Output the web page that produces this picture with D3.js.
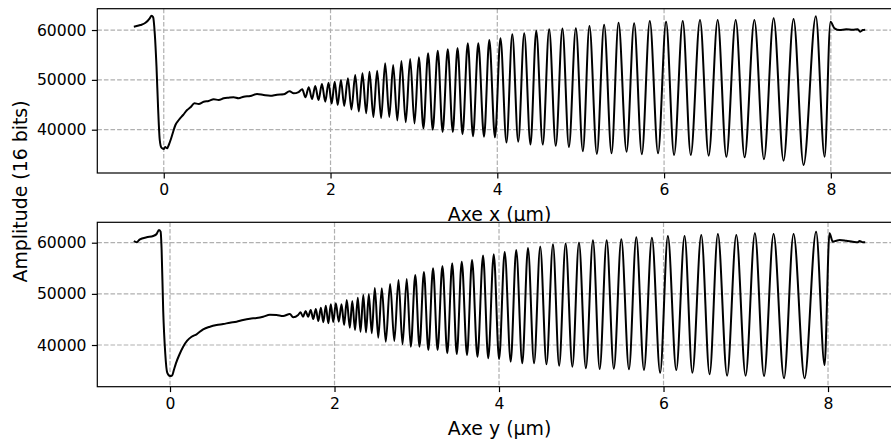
<!DOCTYPE html>
<html><head><meta charset="utf-8">
<script src="https://cdn.jsdelivr.net/npm/d3@7"></script>
<style>
body{margin:0;background:#fff}
svg{display:block}
text{font-family:"DejaVu Sans",sans-serif}
</style>
</head><body><svg id="c" width="891" height="441"></svg>
<script>
const xTicks=[0,2,4,6,8];
const yTicks=[40000,50000,60000];
const xLabels=["Axe x (µm)","Axe y (µm)"];
const yLabel="Amplitude (16 bits)";

const topX=[-0.359,-0.279,-0.219,-0.168,-0.147,-0.127,-0.108,-0.087,-0.067,-0.048,-0.028,0.000,0.017,0.041,0.060,0.089,0.113,0.140,0.180,0.232,0.280,0.320,0.368,0.419,0.479,0.539,0.599,0.659,0.719,0.778,0.838,0.898,0.958,1.038,1.119,1.198,1.278,1.358,1.437,1.509,1.557,1.617,
1.661,1.699,1.739,1.778,1.817,1.856,1.897,1.937,1.976,2.014,2.050,2.086,2.125,2.164,2.208,2.251,2.296,2.339,2.383,2.428,2.467,2.514,2.559,2.607,2.655,2.705,2.751,2.801,2.850,2.902,2.955,3.007,3.059,3.114,3.170,3.226,3.286,3.344,3.406,3.466,3.523,3.583,3.646,3.709,3.772,3.841,3.904,3.972,4.038,4.110,4.180,4.251,4.323,4.398,4.467,4.545,4.622,4.701,4.781,4.859,4.942,5.026,5.105,5.194,5.281,5.370,5.454,5.550,5.641,5.733,5.829,5.928,6.024,6.120,6.224,6.320,6.431,6.535,6.643,6.747,6.859,6.966,7.083,7.198,7.314,7.433,7.553,7.673,7.820,7.925,7.996,8.044,8.104,8.184,8.263,8.323,8.352,8.383,8.412];
const topY=[60660,61000,61460,62350,62870,62550,59340,52640,43950,37930,36390,36130,36530,36270,36930,38280,39600,40940,41950,42950,43950,44490,45300,45160,45620,45760,46100,45960,46300,46420,46500,46300,46620,46760,47160,46960,46820,47020,47100,47700,47300,47560,
48100,46500,48510,46160,48770,45960,49170,45620,49430,45260,49630,44960,49970,44750,50310,44050,50970,43650,51310,43290,51630,42550,51840,42350,53320,42550,52980,41850,53780,41500,54180,41240,54520,40280,55330,39980,55850,39540,56130,39540,56390,39080,57330,38680,57330,38600,57990,38480,58330,37430,59140,37590,59340,37010,59860,37010,60140,36770,60300,36530,60340,35690,60800,35130,61040,35270,61460,35590,61340,35070,61810,35270,61670,34930,61810,34930,62010,34790,62010,34580,62010,34460,62010,34060,62350,33780,62210,32920,62750,34580,61670,60340,60000,60140,60060,60140,59660,60000,60060];

const bottomX=[-0.439,-0.406,-0.366,-0.284,-0.204,-0.163,-0.135,-0.114,-0.102,-0.083,-0.058,-0.034,-0.001,0.027,0.047,0.072,0.112,0.160,0.209,0.262,0.323,0.403,0.485,0.566,0.646,0.728,0.809,0.889,0.971,1.052,1.132,1.214,1.295,1.375,1.457,1.497,1.558,
1.587,1.617,1.649,1.679,1.711,1.741,1.773,1.803,1.834,1.864,1.894,1.925,1.955,1.985,2.016,2.052,2.085,2.117,2.149,2.186,2.216,2.249,2.283,2.316,2.350,2.383,2.417,2.453,2.490,2.532,2.575,2.623,2.676,2.727,2.778,2.827,2.878,2.927,2.982,3.033,3.087,3.141,3.198,3.253,3.312,3.371,3.431,3.486,3.547,3.611,3.672,3.738,3.806,3.869,3.936,4.001,4.069,4.142,4.209,4.283,4.352,4.426,4.501,4.577,4.656,4.731,4.810,4.892,4.972,5.056,5.142,5.224,5.309,5.396,5.487,5.580,5.669,5.762,5.859,5.959,6.053,6.155,6.256,6.351,6.459,6.560,6.661,6.773,6.885,6.998,7.111,7.222,7.338,7.465,7.581,7.715,7.855,7.958,8.018,8.058,8.100,8.140,8.221,8.301,8.362,8.383,8.423,8.452];
const bottomY=[60330,60080,60660,61060,61310,61700,62480,62150,58570,46840,38380,34590,33940,34080,35110,36420,38050,39670,40840,41620,42090,43070,43580,43910,44110,44360,44560,44890,45140,45280,45530,45920,45870,45670,46060,45420,45870,
46390,45530,46650,45530,46840,45080,47040,44690,47290,44440,47680,44240,47960,44500,48150,44560,47960,43910,48800,43380,48600,42930,49250,42600,49780,42480,49910,42290,51140,41430,51090,40650,51930,40780,52710,40140,52900,39670,53690,39670,54270,39020,55000,39020,55450,38380,55970,38240,56290,38050,56620,37710,57500,37400,57730,37260,58180,36740,58570,36420,58960,36420,59260,36230,59690,35950,59840,35760,60040,35450,60470,35310,60490,35350,60660,35250,61060,35110,60980,34590,61310,35110,61310,34590,61510,34270,61700,34000,61510,34000,61840,33940,61700,33490,61700,33490,62150,36090,61840,60200,60390,60530,60390,60200,60080,60330,60080,60080];

const svg=d3.select("#c");
const L=97.3, R=901.8;
const panels=[
  {xs:topX, ys:topY, xDom:[-0.797,8.851], yDom:[31310,64280], top:8.7, bottom:173, label:xLabels[0], labelY:221},
  {xs:bottomX, ys:bottomY, xDom:[-0.884,8.897], yDom:[31850,63990], top:222.3, bottom:386.7, label:xLabels[1], labelY:434.5}
];
const fsTick=15.6, fsLab=18.9;
panels.forEach(p=>{
  const g=svg.append("g");
  const x=d3.scaleLinear().domain(p.xDom).range([L,R]);
  const y=d3.scaleLinear().domain(p.yDom).range([p.bottom,p.top]);
  g.append("rect").attr("x",L).attr("y",p.top).attr("width",R-L).attr("height",p.bottom-p.top).attr("fill","#fff");
  const grid=g.append("g").attr("stroke","#b0b0b0").attr("stroke-width",1.2).attr("stroke-dasharray","4.6,2");
  grid.selectAll(".gx").data(xTicks).join("line").attr("class","gx")
    .attr("x1",d=>x(d)).attr("x2",d=>x(d)).attr("y1",p.top).attr("y2",p.bottom);
  grid.selectAll(".gy").data(yTicks).join("line").attr("class","gy")
    .attr("y1",d=>y(d)).attr("y2",d=>y(d)).attr("x1",L).attr("x2",R);
  const pts=p.xs.map((v,i)=>[v,p.ys[i]]);
  g.append("path").datum(pts)
    .attr("d",d3.line().x(d=>x(d[0])).y(d=>y(d[1])).curve(d3.curveMonotoneX))
    .attr("fill","none").attr("stroke","#000").attr("stroke-width",2.0).attr("stroke-linejoin","round");
  g.append("rect").attr("x",L).attr("y",p.top).attr("width",R-L).attr("height",p.bottom-p.top)
    .attr("fill","none").attr("stroke","#000").attr("stroke-width",1.2);
  const ax=g.append("g").attr("transform",`translate(0,${p.bottom})`)
    .call(d3.axisBottom(x).tickValues(xTicks).tickFormat(d3.format("d")).tickSize(5.4).tickPadding(5.4).tickSizeOuter(0));
  const ay=g.append("g").attr("transform",`translate(${L},0)`)
    .call(d3.axisLeft(y).tickValues(yTicks).tickFormat(d=>String(d)).tickSize(5.4).tickPadding(5.4).tickSizeOuter(0));
  [ax,ay].forEach(a=>{
    a.select(".domain").remove();
    a.attr("font-family","DejaVu Sans").attr("font-size",fsTick);
    a.selectAll(".tick line").attr("stroke","#000").attr("stroke-width",1.2);
    a.selectAll(".tick text").attr("fill","#000");
  });
  g.append("text").attr("x",(L+R)/2).attr("y",p.labelY).attr("text-anchor","middle")
    .attr("font-size",fsLab).attr("fill","#000").text(p.label);
});
svg.append("text").attr("transform","translate(19.5,191.5) rotate(-90)")
  .attr("text-anchor","middle").attr("dominant-baseline","central")
  .attr("font-size",fsLab).attr("fill","#000").text(yLabel);
</script>
</body></html>
